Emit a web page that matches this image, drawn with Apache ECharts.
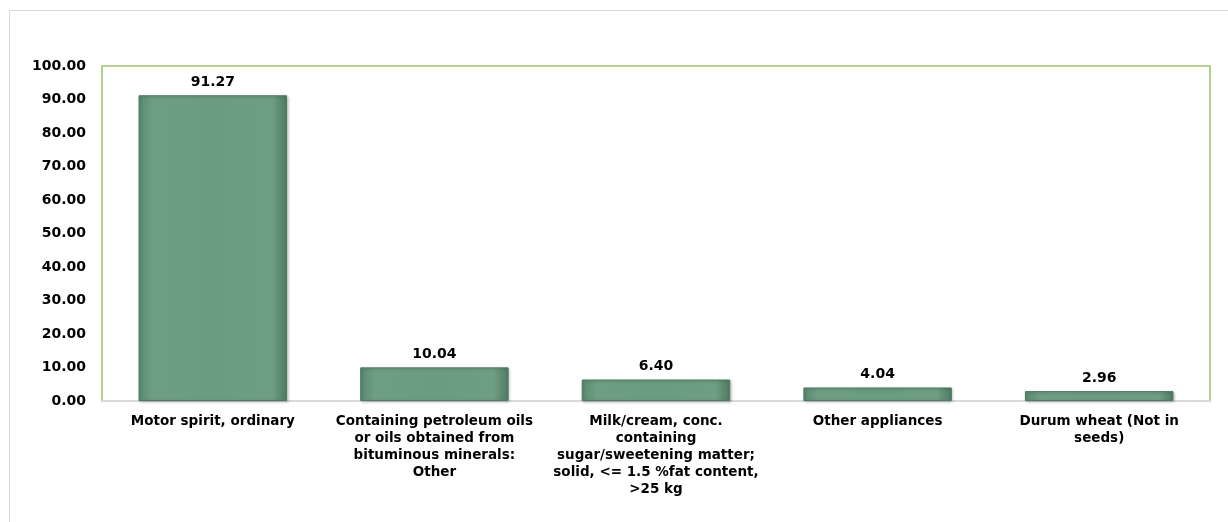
<!DOCTYPE html>
<html>
<head>
<meta charset="utf-8">
<script src="https://cdn.jsdelivr.net/npm/echarts@6/dist/echarts.min.js"></script>
<style>
  html, body { margin: 0; padding: 0; background: #fff; }
  #main { width: 1228px; height: 522px; }
  #frame { position: absolute; left: 9px; top: 10px; width: 1230px; height: 520px; border: 1px solid #d9d9d9; pointer-events: none; }
</style>
</head>
<body>
<div id="main"></div>
<div id="frame"></div>
<script>
// categories and values
let categories = [
    "Motor spirit, ordinary",
    "Containing petroleum oils\nor oils obtained from\nbituminous minerals:\nOther",
    "Milk/cream, conc.\ncontaining\nsugar/sweetening matter;\nsolid, <= 1.5 %fat content,\n>25 kg",
    "Other appliances",
    "Durum wheat (Not in\nseeds)"
];
let values = [91.27, 10.04, 6.40, 4.04, 2.96];

var myChart = echarts.init(document.getElementById('main'));

myChart.setOption({
    animation: false,
    grid: {
        left: 102,
        right: 18,
        top: 66,
        bottom: 121,
        show: true,
        borderColor: "#b3d38c",
        borderWidth: 2,
        containLabel: false
    },
    xAxis: {
        type: "category",
        data: categories,
        axisLine: { lineStyle: { color: "#d9d9d9", width: 2 } },
        axisTick: { show: false },
        axisLabel: {
            interval: 0,
            color: "#000",
            fontFamily: "DejaVu Sans",
            fontWeight: "bold",
            fontSize: 13.5,
            lineHeight: 17,
            margin: 12
        }
    },
    yAxis: {
        type: "value",
        min: 0,
        max: 100,
        interval: 10,
        splitLine: { show: false },
        axisLine: { show: false },
        axisTick: { show: false },
        axisLabel: {
            color: "#000",
            fontFamily: "DejaVu Sans",
            fontWeight: "bold",
            fontSize: 14,
            margin: 16,
            formatter: (v) => v.toFixed(2)
        }
    },
    series: [{
        type: "bar",
        data: values,
        barWidth: "67%",
        itemStyle: {
            color: new echarts.graphic.LinearGradient(0, 0, 1, 0, [
                { offset: 0, color: "#5b8a6f" },
                { offset: 0.1, color: "#6e9e84" },
                { offset: 0.5, color: "#6b9c82" },
                { offset: 0.9, color: "#6e9e84" },
                { offset: 1, color: "#4e7a60" }
            ]),
            borderColor: "#4f7a62",
            borderWidth: 1,
            shadowColor: "rgba(0,0,0,0.25)",
            shadowBlur: 3,
            shadowOffsetX: 1,
            shadowOffsetY: 1
        },
        label: {
            show: true,
            position: "top",
            distance: 6,
            color: "#000",
            fontFamily: "DejaVu Sans",
            fontWeight: "bold",
            fontSize: 14,
            formatter: (p) => p.value.toFixed(2)
        }
    }]
});
</script>
</body>
</html>
